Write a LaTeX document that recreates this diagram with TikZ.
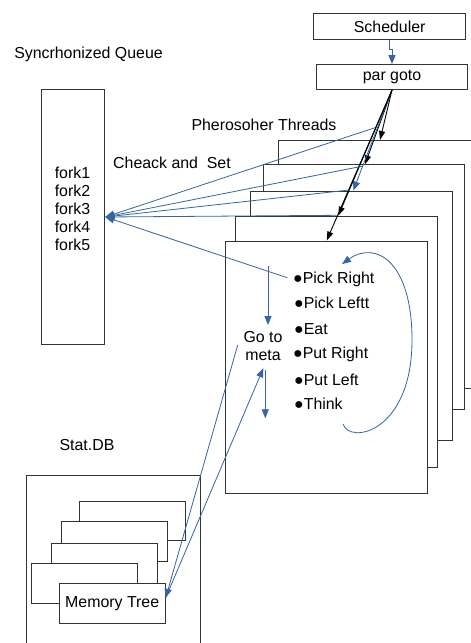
\documentclass[tikz,border=0pt]{standalone}
\usepackage{fontspec}
\setmainfont{Liberation Sans}
\usetikzlibrary{arrows.meta,calc}
\definecolor{lblue}{HTML}{3465A4}
\definecolor{edge}{HTML}{333333}
\begin{document}
\begin{tikzpicture}[x=1pt,y=-1pt,
  every node/.style={font=\fontsize{15.9}{18}\selectfont},
  box/.style={draw=edge,line width=1pt,fill=white,inner sep=0pt,anchor=north west},
  lbl/.style={inner sep=0pt},
  bluearrow/.style={draw=lblue,line width=0.8pt,-{Triangle[length=9pt,width=7pt]}},
  blackarrow/.style={draw=black,line width=0.9pt,-{Triangle[length=9pt,width=6pt]}}]
\path[use as bounding box, clip] (0,0) rectangle (471,643);

% top boxes
\node[box,minimum width=151.7pt,minimum height=26pt] (sched) at (313.3,13) {Scheduler};
\node[box,minimum width=151.6pt,minimum height=25pt] (pargoto) at (315.7,64) {par goto};

% thread stack
\node[box,minimum width=210pt,minimum height=247.7pt] (t5) at (278,140) {};
\node[box,minimum width=201.6pt,minimum height=245pt] (t4) at (262.7,164.3) {};
\node[box,minimum width=202pt,minimum height=249.5pt] (t3) at (250.3,190.5) {};
\node[box,minimum width=202pt,minimum height=251.6pt] (t2) at (235,215.7) {};
\node[box,minimum width=202pt,minimum height=252.2pt] (t1) at (225,240.5) {};

% forks queue
\node[box,minimum width=63.3pt,minimum height=255pt] (forks) at (41,89) {};
\node[lbl,align=center] (forklist) at (72.5,209) {fork1\\fork2\\fork3\\fork4\\fork5};

% Stat.DB
\node[box,minimum width=174pt,minimum height=200pt] (statbox) at (26,475) {};
\node[box,minimum width=105.7pt,minimum height=39.3pt] (mb1) at (79,500.7) {};
\node[box,minimum width=106.3pt,minimum height=40pt] (mb2) at (61,520.7) {};
\node[box,minimum width=106.3pt,minimum height=40pt] (mb3) at (51,543.3) {};
\node[box,minimum width=105.7pt,minimum height=40pt] (mb4) at (31,563.3) {};
\node[box,minimum width=106pt,minimum height=40pt] (mem) at (58.7,583.3) {Memory Tree};

% labels
\node[lbl] (syncq) at (88.5,54) {Syncrhonized Queue};
\node[lbl] (cas) at (172,163) {Cheack and\ \ Set};
\node[lbl] (pt) at (264,125) {Pherosoher Threads};
\node[lbl] (statdb) at (87,445) {Stat.DB};
\node[lbl,align=center] (goto) at (263,346) {Go to\\meta};

% state list
\node[lbl,anchor=base west] (pr) at (293,283.2) {●Pick Right};
\node[lbl,anchor=base west] (pl) at (294,308.8) {●Pick Leftt};
\node[lbl,anchor=base west] (eat) at (294,334.5) {●Eat};
\node[lbl,anchor=base west] (putr) at (293,358.2) {●Put Right};
\node[lbl,anchor=base west] (putl) at (294,385.5) {●Put Left};
\node[lbl,anchor=base west] (think) at (294,409.8) {●Think};

% scheduler -> par goto
\draw[bluearrow] (sched.south) -- ++(0,9) -| (pargoto.north);

% par goto -> threads
\draw[blackarrow] (pargoto.south) -- ($(t5.north west)+(102,0)$);
\draw[blackarrow] (pargoto.south) -- ($(t4.north west)+(102.3,0)$);
\draw[bluearrow] (pargoto.south) -- ($(t3.north west)+(103,0)$);
\draw[blackarrow] (pargoto.south) -- ($(t2.north west)+(103.3,0)$);
\draw[blackarrow] (pargoto.south) -- ($(t1.north west)+(101.7,0)$);

% check and set
\draw[bluearrow] ($(t5.north west)+(97,-12.3)$) -- (forks.east);
\draw[bluearrow] ($(t4.north west)+(100.6,1.7)$) -- (forks.east);
\draw[bluearrow] ($(t3.north west)+(99,-0.5)$) -- (forks.east);
\draw[bluearrow] ($(t2.north west)+(101.7,-0.4)$) -- (forks.east);
\draw[bluearrow] ($(t1.north west)+(62.3,37.2)$) -- (forks.east);

% loop
\coordinate (loopa) at (343,424);
\coordinate (loopb) at (342,264);
\draw[bluearrow] (loopa) .. controls (350,445) and (412,432) .. (412,340)
  .. controls (412,262) and (376,240) .. (loopb);

% go to meta
\draw[bluearrow] ($(goto.center)+(5,-80)$) -- ($(goto.center)+(5,-21)$);
\draw[bluearrow] ($(goto.center)+(2.3,24)$) -- ($(goto.center)+(2.3,72.3)$);
\draw[bluearrow] ($(goto.center)+(-25.3,-1)$) -- ($(mem.east)+(0,-6)$);
\draw[bluearrow] ($(mem.east)+(0,-6)$) -- ($(goto.center)+(0.3,22.3)$);
\end{tikzpicture}
\end{document}
